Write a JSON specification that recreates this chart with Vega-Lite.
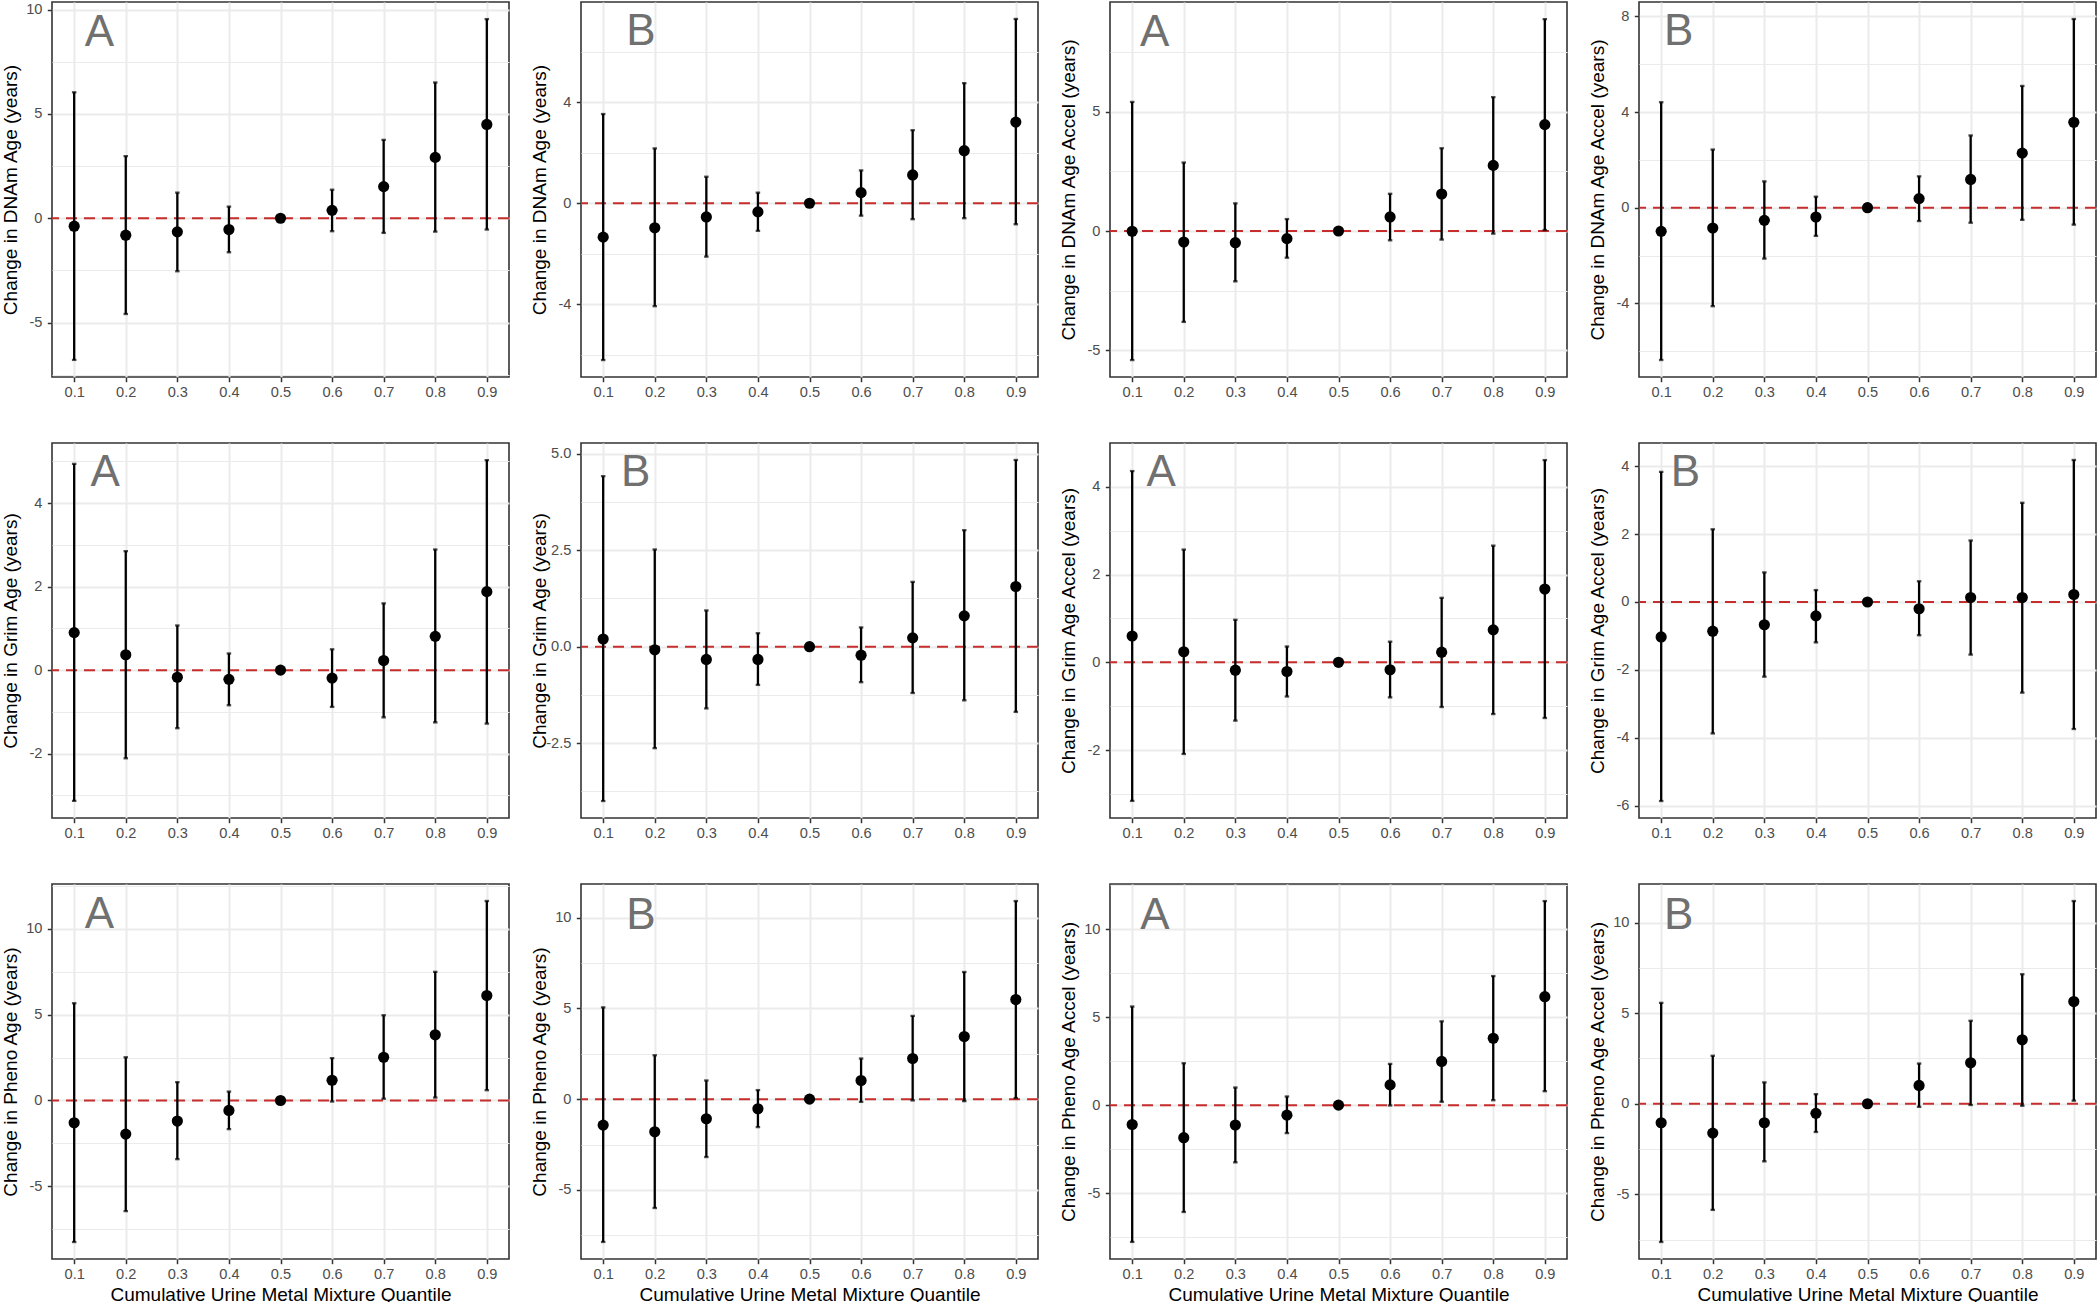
{
"$schema": "https://vega.github.io/schema/vega-lite/v6.json",
"background": "white",
"padding": 0,
"columns": 4,
"spacing": {"row": 66, "column": 72},
"bounds": "flush",
"datasets": {"est": [
{"panel":"p1","q":0.1,"est":-0.38,"lo":-6.79,"hi":6.04},{"panel":"p1","q":0.2,"est":-0.81,"lo":-4.59,"hi":2.98},{"panel":"p1","q":0.3,"est":-0.65,"lo":-2.54,"hi":1.23},{"panel":"p1","q":0.4,"est":-0.54,"lo":-1.63,"hi":0.56},{"panel":"p1","q":0.5,"est":0,"lo":0,"hi":0},{"panel":"p1","q":0.6,"est":0.38,"lo":-0.62,"hi":1.37},{"panel":"p1","q":0.7,"est":1.52,"lo":-0.70,"hi":3.76},{"panel":"p1","q":0.8,"est":2.92,"lo":-0.64,"hi":6.51},{"panel":"p1","q":0.9,"est":4.50,"lo":-0.54,"hi":9.55},
{"panel":"p2","q":0.1,"est":-1.34,"lo":-6.20,"hi":3.53},{"panel":"p2","q":0.2,"est":-0.97,"lo":-4.07,"hi":2.17},{"panel":"p2","q":0.3,"est":-0.54,"lo":-2.11,"hi":1.05},{"panel":"p2","q":0.4,"est":-0.34,"lo":-1.09,"hi":0.42},{"panel":"p2","q":0.5,"est":0,"lo":0,"hi":0},{"panel":"p2","q":0.6,"est":0.42,"lo":-0.49,"hi":1.30},{"panel":"p2","q":0.7,"est":1.12,"lo":-0.63,"hi":2.89},{"panel":"p2","q":0.8,"est":2.08,"lo":-0.59,"hi":4.75},{"panel":"p2","q":0.9,"est":3.21,"lo":-0.83,"hi":7.29},
{"panel":"p3","q":0.1,"est":-0.01,"lo":-5.41,"hi":5.41},{"panel":"p3","q":0.2,"est":-0.46,"lo":-3.81,"hi":2.87},{"panel":"p3","q":0.3,"est":-0.49,"lo":-2.11,"hi":1.16},{"panel":"p3","q":0.4,"est":-0.32,"lo":-1.12,"hi":0.50},{"panel":"p3","q":0.5,"est":0,"lo":0,"hi":0},{"panel":"p3","q":0.6,"est":0.59,"lo":-0.39,"hi":1.56},{"panel":"p3","q":0.7,"est":1.55,"lo":-0.36,"hi":3.47},{"panel":"p3","q":0.8,"est":2.75,"lo":-0.11,"hi":5.61},{"panel":"p3","q":0.9,"est":4.46,"lo":0.04,"hi":8.88},
{"panel":"p4","q":0.1,"est":-0.99,"lo":-6.37,"hi":4.41},{"panel":"p4","q":0.2,"est":-0.85,"lo":-4.12,"hi":2.43},{"panel":"p4","q":0.3,"est":-0.53,"lo":-2.13,"hi":1.10},{"panel":"p4","q":0.4,"est":-0.39,"lo":-1.18,"hi":0.46},{"panel":"p4","q":0.5,"est":0,"lo":0,"hi":0},{"panel":"p4","q":0.6,"est":0.38,"lo":-0.56,"hi":1.31},{"panel":"p4","q":0.7,"est":1.18,"lo":-0.63,"hi":3.02},{"panel":"p4","q":0.8,"est":2.28,"lo":-0.51,"hi":5.09},{"panel":"p4","q":0.9,"est":3.57,"lo":-0.71,"hi":7.89},
{"panel":"p5","q":0.1,"est":0.90,"lo":-3.13,"hi":4.94},{"panel":"p5","q":0.2,"est":0.37,"lo":-2.11,"hi":2.85},{"panel":"p5","q":0.3,"est":-0.17,"lo":-1.39,"hi":1.07},{"panel":"p5","q":0.4,"est":-0.22,"lo":-0.84,"hi":0.40},{"panel":"p5","q":0.5,"est":0,"lo":0,"hi":0},{"panel":"p5","q":0.6,"est":-0.19,"lo":-0.88,"hi":0.50},{"panel":"p5","q":0.7,"est":0.23,"lo":-1.13,"hi":1.60},{"panel":"p5","q":0.8,"est":0.81,"lo":-1.25,"hi":2.89},{"panel":"p5","q":0.9,"est":1.88,"lo":-1.28,"hi":5.03},
{"panel":"p6","q":0.1,"est":0.20,"lo":-4.00,"hi":4.42},{"panel":"p6","q":0.2,"est":-0.08,"lo":-2.63,"hi":2.52},{"panel":"p6","q":0.3,"est":-0.33,"lo":-1.60,"hi":0.94},{"panel":"p6","q":0.4,"est":-0.33,"lo":-0.99,"hi":0.35},{"panel":"p6","q":0.5,"est":0,"lo":0,"hi":0},{"panel":"p6","q":0.6,"est":-0.22,"lo":-0.92,"hi":0.50},{"panel":"p6","q":0.7,"est":0.23,"lo":-1.20,"hi":1.68},{"panel":"p6","q":0.8,"est":0.80,"lo":-1.39,"hi":3.02},{"panel":"p6","q":0.9,"est":1.56,"lo":-1.69,"hi":4.84},
{"panel":"p7","q":0.1,"est":0.60,"lo":-3.16,"hi":4.36},{"panel":"p7","q":0.2,"est":0.24,"lo":-2.09,"hi":2.57},{"panel":"p7","q":0.3,"est":-0.18,"lo":-1.33,"hi":0.97},{"panel":"p7","q":0.4,"est":-0.21,"lo":-0.78,"hi":0.36},{"panel":"p7","q":0.5,"est":0,"lo":0,"hi":0},{"panel":"p7","q":0.6,"est":-0.17,"lo":-0.80,"hi":0.47},{"panel":"p7","q":0.7,"est":0.23,"lo":-1.02,"hi":1.47},{"panel":"p7","q":0.8,"est":0.74,"lo":-1.18,"hi":2.66},{"panel":"p7","q":0.9,"est":1.67,"lo":-1.27,"hi":4.61},
{"panel":"p8","q":0.1,"est":-1.03,"lo":-5.86,"hi":3.83},{"panel":"p8","q":0.2,"est":-0.86,"lo":-3.87,"hi":2.14},{"panel":"p8","q":0.3,"est":-0.67,"lo":-2.20,"hi":0.87},{"panel":"p8","q":0.4,"est":-0.41,"lo":-1.19,"hi":0.35},{"panel":"p8","q":0.5,"est":0,"lo":0,"hi":0},{"panel":"p8","q":0.6,"est":-0.20,"lo":-0.98,"hi":0.61},{"panel":"p8","q":0.7,"est":0.13,"lo":-1.55,"hi":1.81},{"panel":"p8","q":0.8,"est":0.13,"lo":-2.67,"hi":2.92},{"panel":"p8","q":0.9,"est":0.22,"lo":-3.74,"hi":4.18},
{"panel":"p9","q":0.1,"est":-1.30,"lo":-8.25,"hi":5.67},{"panel":"p9","q":0.2,"est":-1.96,"lo":-6.45,"hi":2.52},{"panel":"p9","q":0.3,"est":-1.20,"lo":-3.42,"hi":1.07},{"panel":"p9","q":0.4,"est":-0.58,"lo":-1.67,"hi":0.52},{"panel":"p9","q":0.5,"est":0,"lo":0,"hi":0},{"panel":"p9","q":0.6,"est":1.18,"lo":-0.06,"hi":2.47},{"panel":"p9","q":0.7,"est":2.52,"lo":0.10,"hi":4.97},{"panel":"p9","q":0.8,"est":3.83,"lo":0.17,"hi":7.50},{"panel":"p9","q":0.9,"est":6.12,"lo":0.60,"hi":11.63},
{"panel":"p10","q":0.1,"est":-1.43,"lo":-7.87,"hi":5.06},{"panel":"p10","q":0.2,"est":-1.80,"lo":-6.00,"hi":2.42},{"panel":"p10","q":0.3,"est":-1.08,"lo":-3.19,"hi":1.03},{"panel":"p10","q":0.4,"est":-0.53,"lo":-1.54,"hi":0.50},{"panel":"p10","q":0.5,"est":0,"lo":0,"hi":0},{"panel":"p10","q":0.6,"est":1.03,"lo":-0.15,"hi":2.24},{"panel":"p10","q":0.7,"est":2.24,"lo":-0.07,"hi":4.59},{"panel":"p10","q":0.8,"est":3.45,"lo":-0.11,"hi":7.01},{"panel":"p10","q":0.9,"est":5.49,"lo":0.06,"hi":10.92},
{"panel":"p11","q":0.1,"est":-1.10,"lo":-7.77,"hi":5.60},{"panel":"p11","q":0.2,"est":-1.85,"lo":-6.07,"hi":2.38},{"panel":"p11","q":0.3,"est":-1.13,"lo":-3.25,"hi":1.00},{"panel":"p11","q":0.4,"est":-0.57,"lo":-1.59,"hi":0.49},{"panel":"p11","q":0.5,"est":0,"lo":0,"hi":0},{"panel":"p11","q":0.6,"est":1.15,"lo":-0.02,"hi":2.34},{"panel":"p11","q":0.7,"est":2.48,"lo":0.19,"hi":4.76},{"panel":"p11","q":0.8,"est":3.80,"lo":0.28,"hi":7.33},{"panel":"p11","q":0.9,"est":6.16,"lo":0.79,"hi":11.59},
{"panel":"p12","q":0.1,"est":-1.05,"lo":-7.63,"hi":5.57},{"panel":"p12","q":0.2,"est":-1.62,"lo":-5.86,"hi":2.65},{"panel":"p12","q":0.3,"est":-1.05,"lo":-3.18,"hi":1.18},{"panel":"p12","q":0.4,"est":-0.53,"lo":-1.56,"hi":0.53},{"panel":"p12","q":0.5,"est":0,"lo":0,"hi":0},{"panel":"p12","q":0.6,"est":1.01,"lo":-0.17,"hi":2.22},{"panel":"p12","q":0.7,"est":2.26,"lo":-0.07,"hi":4.58},{"panel":"p12","q":0.8,"est":3.53,"lo":-0.11,"hi":7.15},{"panel":"p12","q":0.9,"est":5.64,"lo":0.17,"hi":11.19}
]},
"concat": [
{"width":457,"height":375,"layer":[
 {"data":{"values":[{}]},"mark":{"type":"rule","color":"#C62D2D","strokeDash":[11,7],"strokeWidth":2},"encoding":{"y":{"datum":0,"type":"quantitative"}}},
 {"data":{"name":"est"},"transform":[{"filter":"datum.panel === 'p1'"}],"mark":{"type":"rule","color":"black","strokeWidth":2.3},"encoding":{"x":{"field":"q","type":"quantitative","title":null},"y":{"field":"lo","type":"quantitative","title":"Change in DNAm Age (years)"},"y2":{"field":"hi"}}},
 {"data":{"name":"est"},"transform":[{"filter":"datum.panel === 'p1'"}],"mark":{"type":"tick","orient":"horizontal","color":"black","size":4.5,"thickness":2.3},"encoding":{"x":{"field":"q","type":"quantitative","title":null},"y":{"field":"lo","type":"quantitative","title":"Change in DNAm Age (years)"}}},
 {"data":{"name":"est"},"transform":[{"filter":"datum.panel === 'p1'"}],"mark":{"type":"tick","orient":"horizontal","color":"black","size":4.5,"thickness":2.3},"encoding":{"x":{"field":"q","type":"quantitative","title":null},"y":{"field":"hi","type":"quantitative","title":"Change in DNAm Age (years)"}}},
 {"data":{"name":"est"},"transform":[{"filter":"datum.panel === 'p1'"}],"mark":{"type":"circle","color":"black","opacity":1,"size":125},"encoding":{
  "x":{"field":"q","type":"quantitative","title":null,"scale":{"domain":[0.057,0.943],"nice":false,"zero":false},"axis":{"values":[0.1,0.15,0.2,0.25,0.3,0.35,0.4,0.45,0.5,0.55,0.6,0.65,0.7,0.75,0.8,0.85,0.9],"labelExpr":"abs(datum.value*10 - round(datum.value*10)) > 0.01 ? '' : format(datum.value, '.1f')","gridWidth":{"condition":{"test":"abs(datum.value*10 - round(datum.value*10)) > 0.01","value":1.1},"value":2},"tickOpacity":{"condition":{"test":"abs(datum.value*10 - round(datum.value*10)) > 0.01","value":0},"value":1}}},
  "y":{"field":"est","type":"quantitative","title":"Change in DNAm Age (years)","scale":{"domain":[-7.61,10.37],"nice":false,"zero":false},"axis":{"values":[-7.5,-5,-2.5,0,2.5,5,7.5,10],"labelExpr":"indexof([-5,0,5,10], datum.value) < 0 ? '' : '' + datum.value","gridWidth":{"condition":{"test":"indexof([-5,0,5,10], datum.value) < 0","value":1.1},"value":2},"tickOpacity":{"condition":{"test":"indexof([-5,0,5,10], datum.value) < 0","value":0},"value":1}}}}},
 {"data":{"values":[{}]},"mark":{"type":"text","text":"A","fontSize":44,"color":"#707070","font":"Liberation Sans","align":"center","baseline":"alphabetic"},"encoding":{"x":{"datum":0.149,"type":"quantitative"},"y":{"datum":8.28,"type":"quantitative"}}}
]},
{"width":457,"height":375,"layer":[
 {"data":{"values":[{}]},"mark":{"type":"rule","color":"#C62D2D","strokeDash":[11,7],"strokeWidth":2},"encoding":{"y":{"datum":0,"type":"quantitative"}}},
 {"data":{"name":"est"},"transform":[{"filter":"datum.panel === 'p2'"}],"mark":{"type":"rule","color":"black","strokeWidth":2.3},"encoding":{"x":{"field":"q","type":"quantitative","title":null},"y":{"field":"lo","type":"quantitative","title":"Change in DNAm Age (years)"},"y2":{"field":"hi"}}},
 {"data":{"name":"est"},"transform":[{"filter":"datum.panel === 'p2'"}],"mark":{"type":"tick","orient":"horizontal","color":"black","size":4.5,"thickness":2.3},"encoding":{"x":{"field":"q","type":"quantitative","title":null},"y":{"field":"lo","type":"quantitative","title":"Change in DNAm Age (years)"}}},
 {"data":{"name":"est"},"transform":[{"filter":"datum.panel === 'p2'"}],"mark":{"type":"tick","orient":"horizontal","color":"black","size":4.5,"thickness":2.3},"encoding":{"x":{"field":"q","type":"quantitative","title":null},"y":{"field":"hi","type":"quantitative","title":"Change in DNAm Age (years)"}}},
 {"data":{"name":"est"},"transform":[{"filter":"datum.panel === 'p2'"}],"mark":{"type":"circle","color":"black","opacity":1,"size":125},"encoding":{
  "x":{"field":"q","type":"quantitative","title":null,"scale":{"domain":[0.057,0.943],"nice":false,"zero":false},"axis":{"values":[0.1,0.15,0.2,0.25,0.3,0.35,0.4,0.45,0.5,0.55,0.6,0.65,0.7,0.75,0.8,0.85,0.9],"labelExpr":"abs(datum.value*10 - round(datum.value*10)) > 0.01 ? '' : format(datum.value, '.1f')","gridWidth":{"condition":{"test":"abs(datum.value*10 - round(datum.value*10)) > 0.01","value":1.1},"value":2},"tickOpacity":{"condition":{"test":"abs(datum.value*10 - round(datum.value*10)) > 0.01","value":0},"value":1}}},
  "y":{"field":"est","type":"quantitative","title":"Change in DNAm Age (years)","scale":{"domain":[-6.87,7.96],"nice":false,"zero":false},"axis":{"values":[-6,-4,-2,0,2,4,6],"labelExpr":"indexof([-4,0,4], datum.value) < 0 ? '' : '' + datum.value","gridWidth":{"condition":{"test":"indexof([-4,0,4], datum.value) < 0","value":1.1},"value":2},"tickOpacity":{"condition":{"test":"indexof([-4,0,4], datum.value) < 0","value":0},"value":1}}}}},
 {"data":{"values":[{}]},"mark":{"type":"text","text":"B","fontSize":44,"color":"#707070","font":"Liberation Sans","align":"center","baseline":"alphabetic"},"encoding":{"x":{"datum":0.173,"type":"quantitative"},"y":{"datum":6.26,"type":"quantitative"}}}
]},
{"width":457,"height":375,"layer":[
 {"data":{"values":[{}]},"mark":{"type":"rule","color":"#C62D2D","strokeDash":[11,7],"strokeWidth":2},"encoding":{"y":{"datum":0,"type":"quantitative"}}},
 {"data":{"name":"est"},"transform":[{"filter":"datum.panel === 'p3'"}],"mark":{"type":"rule","color":"black","strokeWidth":2.3},"encoding":{"x":{"field":"q","type":"quantitative","title":null},"y":{"field":"lo","type":"quantitative","title":"Change in DNAm Age Accel (years)"},"y2":{"field":"hi"}}},
 {"data":{"name":"est"},"transform":[{"filter":"datum.panel === 'p3'"}],"mark":{"type":"tick","orient":"horizontal","color":"black","size":4.5,"thickness":2.3},"encoding":{"x":{"field":"q","type":"quantitative","title":null},"y":{"field":"lo","type":"quantitative","title":"Change in DNAm Age Accel (years)"}}},
 {"data":{"name":"est"},"transform":[{"filter":"datum.panel === 'p3'"}],"mark":{"type":"tick","orient":"horizontal","color":"black","size":4.5,"thickness":2.3},"encoding":{"x":{"field":"q","type":"quantitative","title":null},"y":{"field":"hi","type":"quantitative","title":"Change in DNAm Age Accel (years)"}}},
 {"data":{"name":"est"},"transform":[{"filter":"datum.panel === 'p3'"}],"mark":{"type":"circle","color":"black","opacity":1,"size":125},"encoding":{
  "x":{"field":"q","type":"quantitative","title":null,"scale":{"domain":[0.057,0.943],"nice":false,"zero":false},"axis":{"values":[0.1,0.15,0.2,0.25,0.3,0.35,0.4,0.45,0.5,0.55,0.6,0.65,0.7,0.75,0.8,0.85,0.9],"labelExpr":"abs(datum.value*10 - round(datum.value*10)) > 0.01 ? '' : format(datum.value, '.1f')","gridWidth":{"condition":{"test":"abs(datum.value*10 - round(datum.value*10)) > 0.01","value":1.1},"value":2},"tickOpacity":{"condition":{"test":"abs(datum.value*10 - round(datum.value*10)) > 0.01","value":0},"value":1}}},
  "y":{"field":"est","type":"quantitative","title":"Change in DNAm Age Accel (years)","scale":{"domain":[-6.12,9.60],"nice":false,"zero":false},"axis":{"values":[-5,-2.5,0,2.5,5,7.5],"labelExpr":"indexof([-5,0,5], datum.value) < 0 ? '' : '' + datum.value","gridWidth":{"condition":{"test":"indexof([-5,0,5], datum.value) < 0","value":1.1},"value":2},"tickOpacity":{"condition":{"test":"indexof([-5,0,5], datum.value) < 0","value":0},"value":1}}}}},
 {"data":{"values":[{}]},"mark":{"type":"text","text":"A","fontSize":44,"color":"#707070","font":"Liberation Sans","align":"center","baseline":"alphabetic"},"encoding":{"x":{"datum":0.1435,"type":"quantitative"},"y":{"datum":7.77,"type":"quantitative"}}}
]},
{"width":457,"height":375,"layer":[
 {"data":{"values":[{}]},"mark":{"type":"rule","color":"#C62D2D","strokeDash":[11,7],"strokeWidth":2},"encoding":{"y":{"datum":0,"type":"quantitative"}}},
 {"data":{"name":"est"},"transform":[{"filter":"datum.panel === 'p4'"}],"mark":{"type":"rule","color":"black","strokeWidth":2.3},"encoding":{"x":{"field":"q","type":"quantitative","title":null},"y":{"field":"lo","type":"quantitative","title":"Change in DNAm Age Accel (years)"},"y2":{"field":"hi"}}},
 {"data":{"name":"est"},"transform":[{"filter":"datum.panel === 'p4'"}],"mark":{"type":"tick","orient":"horizontal","color":"black","size":4.5,"thickness":2.3},"encoding":{"x":{"field":"q","type":"quantitative","title":null},"y":{"field":"lo","type":"quantitative","title":"Change in DNAm Age Accel (years)"}}},
 {"data":{"name":"est"},"transform":[{"filter":"datum.panel === 'p4'"}],"mark":{"type":"tick","orient":"horizontal","color":"black","size":4.5,"thickness":2.3},"encoding":{"x":{"field":"q","type":"quantitative","title":null},"y":{"field":"hi","type":"quantitative","title":"Change in DNAm Age Accel (years)"}}},
 {"data":{"name":"est"},"transform":[{"filter":"datum.panel === 'p4'"}],"mark":{"type":"circle","color":"black","opacity":1,"size":125},"encoding":{
  "x":{"field":"q","type":"quantitative","title":null,"scale":{"domain":[0.057,0.943],"nice":false,"zero":false},"axis":{"values":[0.1,0.15,0.2,0.25,0.3,0.35,0.4,0.45,0.5,0.55,0.6,0.65,0.7,0.75,0.8,0.85,0.9],"labelExpr":"abs(datum.value*10 - round(datum.value*10)) > 0.01 ? '' : format(datum.value, '.1f')","gridWidth":{"condition":{"test":"abs(datum.value*10 - round(datum.value*10)) > 0.01","value":1.1},"value":2},"tickOpacity":{"condition":{"test":"abs(datum.value*10 - round(datum.value*10)) > 0.01","value":0},"value":1}}},
  "y":{"field":"est","type":"quantitative","title":"Change in DNAm Age Accel (years)","scale":{"domain":[-7.08,8.60],"nice":false,"zero":false},"axis":{"values":[-6,-4,-2,0,2,4,6,8],"labelExpr":"indexof([-4,0,4,8], datum.value) < 0 ? '' : '' + datum.value","gridWidth":{"condition":{"test":"indexof([-4,0,4,8], datum.value) < 0","value":1.1},"value":2},"tickOpacity":{"condition":{"test":"indexof([-4,0,4,8], datum.value) < 0","value":0},"value":1}}}}},
 {"data":{"values":[{}]},"mark":{"type":"text","text":"B","fontSize":44,"color":"#707070","font":"Liberation Sans","align":"center","baseline":"alphabetic"},"encoding":{"x":{"datum":0.134,"type":"quantitative"},"y":{"datum":6.80,"type":"quantitative"}}}
]},
{"width":457,"height":375,"layer":[
 {"data":{"values":[{}]},"mark":{"type":"rule","color":"#C62D2D","strokeDash":[11,7],"strokeWidth":2},"encoding":{"y":{"datum":0,"type":"quantitative"}}},
 {"data":{"name":"est"},"transform":[{"filter":"datum.panel === 'p5'"}],"mark":{"type":"rule","color":"black","strokeWidth":2.3},"encoding":{"x":{"field":"q","type":"quantitative","title":null},"y":{"field":"lo","type":"quantitative","title":"Change in Grim Age (years)"},"y2":{"field":"hi"}}},
 {"data":{"name":"est"},"transform":[{"filter":"datum.panel === 'p5'"}],"mark":{"type":"tick","orient":"horizontal","color":"black","size":4.5,"thickness":2.3},"encoding":{"x":{"field":"q","type":"quantitative","title":null},"y":{"field":"lo","type":"quantitative","title":"Change in Grim Age (years)"}}},
 {"data":{"name":"est"},"transform":[{"filter":"datum.panel === 'p5'"}],"mark":{"type":"tick","orient":"horizontal","color":"black","size":4.5,"thickness":2.3},"encoding":{"x":{"field":"q","type":"quantitative","title":null},"y":{"field":"hi","type":"quantitative","title":"Change in Grim Age (years)"}}},
 {"data":{"name":"est"},"transform":[{"filter":"datum.panel === 'p5'"}],"mark":{"type":"circle","color":"black","opacity":1,"size":125},"encoding":{
  "x":{"field":"q","type":"quantitative","title":null,"scale":{"domain":[0.057,0.943],"nice":false,"zero":false},"axis":{"values":[0.1,0.15,0.2,0.25,0.3,0.35,0.4,0.45,0.5,0.55,0.6,0.65,0.7,0.75,0.8,0.85,0.9],"labelExpr":"abs(datum.value*10 - round(datum.value*10)) > 0.01 ? '' : format(datum.value, '.1f')","gridWidth":{"condition":{"test":"abs(datum.value*10 - round(datum.value*10)) > 0.01","value":1.1},"value":2},"tickOpacity":{"condition":{"test":"abs(datum.value*10 - round(datum.value*10)) > 0.01","value":0},"value":1}}},
  "y":{"field":"est","type":"quantitative","title":"Change in Grim Age (years)","scale":{"domain":[-3.54,5.44],"nice":false,"zero":false},"axis":{"values":[-3,-2,-1,0,1,2,3,4,5],"labelExpr":"indexof([-2,0,2,4], datum.value) < 0 ? '' : '' + datum.value","gridWidth":{"condition":{"test":"indexof([-2,0,2,4], datum.value) < 0","value":1.1},"value":2},"tickOpacity":{"condition":{"test":"indexof([-2,0,2,4], datum.value) < 0","value":0},"value":1}}}}},
 {"data":{"values":[{}]},"mark":{"type":"text","text":"A","fontSize":44,"color":"#707070","font":"Liberation Sans","align":"center","baseline":"alphabetic"},"encoding":{"x":{"datum":0.160,"type":"quantitative"},"y":{"datum":4.40,"type":"quantitative"}}}
]},
{"width":457,"height":375,"layer":[
 {"data":{"values":[{}]},"mark":{"type":"rule","color":"#C62D2D","strokeDash":[11,7],"strokeWidth":2},"encoding":{"y":{"datum":0,"type":"quantitative"}}},
 {"data":{"name":"est"},"transform":[{"filter":"datum.panel === 'p6'"}],"mark":{"type":"rule","color":"black","strokeWidth":2.3},"encoding":{"x":{"field":"q","type":"quantitative","title":null},"y":{"field":"lo","type":"quantitative","title":"Change in Grim Age (years)"},"y2":{"field":"hi"}}},
 {"data":{"name":"est"},"transform":[{"filter":"datum.panel === 'p6'"}],"mark":{"type":"tick","orient":"horizontal","color":"black","size":4.5,"thickness":2.3},"encoding":{"x":{"field":"q","type":"quantitative","title":null},"y":{"field":"lo","type":"quantitative","title":"Change in Grim Age (years)"}}},
 {"data":{"name":"est"},"transform":[{"filter":"datum.panel === 'p6'"}],"mark":{"type":"tick","orient":"horizontal","color":"black","size":4.5,"thickness":2.3},"encoding":{"x":{"field":"q","type":"quantitative","title":null},"y":{"field":"hi","type":"quantitative","title":"Change in Grim Age (years)"}}},
 {"data":{"name":"est"},"transform":[{"filter":"datum.panel === 'p6'"}],"mark":{"type":"circle","color":"black","opacity":1,"size":125},"encoding":{
  "x":{"field":"q","type":"quantitative","title":null,"scale":{"domain":[0.057,0.943],"nice":false,"zero":false},"axis":{"values":[0.1,0.15,0.2,0.25,0.3,0.35,0.4,0.45,0.5,0.55,0.6,0.65,0.7,0.75,0.8,0.85,0.9],"labelExpr":"abs(datum.value*10 - round(datum.value*10)) > 0.01 ? '' : format(datum.value, '.1f')","gridWidth":{"condition":{"test":"abs(datum.value*10 - round(datum.value*10)) > 0.01","value":1.1},"value":2},"tickOpacity":{"condition":{"test":"abs(datum.value*10 - round(datum.value*10)) > 0.01","value":0},"value":1}}},
  "y":{"field":"est","type":"quantitative","title":"Change in Grim Age (years)","scale":{"domain":[-4.44,5.28],"nice":false,"zero":false},"axis":{"values":[-3.75,-2.5,-1.25,0,1.25,2.5,3.75,5],"labelExpr":"indexof([-2.5,0,2.5,5], datum.value) < 0 ? '' : replace(format(datum.value, '.1f'), '\u2212', '-')","gridWidth":{"condition":{"test":"indexof([-2.5,0,2.5,5], datum.value) < 0","value":1.1},"value":2},"tickOpacity":{"condition":{"test":"indexof([-2.5,0,2.5,5], datum.value) < 0","value":0},"value":1}}}}},
 {"data":{"values":[{}]},"mark":{"type":"text","text":"B","fontSize":44,"color":"#707070","font":"Liberation Sans","align":"center","baseline":"alphabetic"},"encoding":{"x":{"datum":0.163,"type":"quantitative"},"y":{"datum":4.17,"type":"quantitative"}}}
]},
{"width":457,"height":375,"layer":[
 {"data":{"values":[{}]},"mark":{"type":"rule","color":"#C62D2D","strokeDash":[11,7],"strokeWidth":2},"encoding":{"y":{"datum":0,"type":"quantitative"}}},
 {"data":{"name":"est"},"transform":[{"filter":"datum.panel === 'p7'"}],"mark":{"type":"rule","color":"black","strokeWidth":2.3},"encoding":{"x":{"field":"q","type":"quantitative","title":null},"y":{"field":"lo","type":"quantitative","title":"Change in Grim Age Accel (years)"},"y2":{"field":"hi"}}},
 {"data":{"name":"est"},"transform":[{"filter":"datum.panel === 'p7'"}],"mark":{"type":"tick","orient":"horizontal","color":"black","size":4.5,"thickness":2.3},"encoding":{"x":{"field":"q","type":"quantitative","title":null},"y":{"field":"lo","type":"quantitative","title":"Change in Grim Age Accel (years)"}}},
 {"data":{"name":"est"},"transform":[{"filter":"datum.panel === 'p7'"}],"mark":{"type":"tick","orient":"horizontal","color":"black","size":4.5,"thickness":2.3},"encoding":{"x":{"field":"q","type":"quantitative","title":null},"y":{"field":"hi","type":"quantitative","title":"Change in Grim Age Accel (years)"}}},
 {"data":{"name":"est"},"transform":[{"filter":"datum.panel === 'p7'"}],"mark":{"type":"circle","color":"black","opacity":1,"size":125},"encoding":{
  "x":{"field":"q","type":"quantitative","title":null,"scale":{"domain":[0.057,0.943],"nice":false,"zero":false},"axis":{"values":[0.1,0.15,0.2,0.25,0.3,0.35,0.4,0.45,0.5,0.55,0.6,0.65,0.7,0.75,0.8,0.85,0.9],"labelExpr":"abs(datum.value*10 - round(datum.value*10)) > 0.01 ? '' : format(datum.value, '.1f')","gridWidth":{"condition":{"test":"abs(datum.value*10 - round(datum.value*10)) > 0.01","value":1.1},"value":2},"tickOpacity":{"condition":{"test":"abs(datum.value*10 - round(datum.value*10)) > 0.01","value":0},"value":1}}},
  "y":{"field":"est","type":"quantitative","title":"Change in Grim Age Accel (years)","scale":{"domain":[-3.55,5.00],"nice":false,"zero":false},"axis":{"values":[-3,-2,-1,0,1,2,3,4],"labelExpr":"indexof([-2,0,2,4], datum.value) < 0 ? '' : '' + datum.value","gridWidth":{"condition":{"test":"indexof([-2,0,2,4], datum.value) < 0","value":1.1},"value":2},"tickOpacity":{"condition":{"test":"indexof([-2,0,2,4], datum.value) < 0","value":0},"value":1}}}}},
 {"data":{"values":[{}]},"mark":{"type":"text","text":"A","fontSize":44,"color":"#707070","font":"Liberation Sans","align":"center","baseline":"alphabetic"},"encoding":{"x":{"datum":0.156,"type":"quantitative"},"y":{"datum":4.01,"type":"quantitative"}}}
]},
{"width":457,"height":375,"layer":[
 {"data":{"values":[{}]},"mark":{"type":"rule","color":"#C62D2D","strokeDash":[11,7],"strokeWidth":2},"encoding":{"y":{"datum":0,"type":"quantitative"}}},
 {"data":{"name":"est"},"transform":[{"filter":"datum.panel === 'p8'"}],"mark":{"type":"rule","color":"black","strokeWidth":2.3},"encoding":{"x":{"field":"q","type":"quantitative","title":null},"y":{"field":"lo","type":"quantitative","title":"Change in Grim Age Accel (years)"},"y2":{"field":"hi"}}},
 {"data":{"name":"est"},"transform":[{"filter":"datum.panel === 'p8'"}],"mark":{"type":"tick","orient":"horizontal","color":"black","size":4.5,"thickness":2.3},"encoding":{"x":{"field":"q","type":"quantitative","title":null},"y":{"field":"lo","type":"quantitative","title":"Change in Grim Age Accel (years)"}}},
 {"data":{"name":"est"},"transform":[{"filter":"datum.panel === 'p8'"}],"mark":{"type":"tick","orient":"horizontal","color":"black","size":4.5,"thickness":2.3},"encoding":{"x":{"field":"q","type":"quantitative","title":null},"y":{"field":"hi","type":"quantitative","title":"Change in Grim Age Accel (years)"}}},
 {"data":{"name":"est"},"transform":[{"filter":"datum.panel === 'p8'"}],"mark":{"type":"circle","color":"black","opacity":1,"size":125},"encoding":{
  "x":{"field":"q","type":"quantitative","title":null,"scale":{"domain":[0.057,0.943],"nice":false,"zero":false},"axis":{"values":[0.1,0.15,0.2,0.25,0.3,0.35,0.4,0.45,0.5,0.55,0.6,0.65,0.7,0.75,0.8,0.85,0.9],"labelExpr":"abs(datum.value*10 - round(datum.value*10)) > 0.01 ? '' : format(datum.value, '.1f')","gridWidth":{"condition":{"test":"abs(datum.value*10 - round(datum.value*10)) > 0.01","value":1.1},"value":2},"tickOpacity":{"condition":{"test":"abs(datum.value*10 - round(datum.value*10)) > 0.01","value":0},"value":1}}},
  "y":{"field":"est","type":"quantitative","title":"Change in Grim Age Accel (years)","scale":{"domain":[-6.36,4.68],"nice":false,"zero":false},"axis":{"values":[-6,-5,-4,-3,-2,-1,0,1,2,3,4],"labelExpr":"indexof([-6,-4,-2,0,2,4], datum.value) < 0 ? '' : '' + datum.value","gridWidth":{"condition":{"test":"indexof([-6,-4,-2,0,2,4], datum.value) < 0","value":1.1},"value":2},"tickOpacity":{"condition":{"test":"indexof([-6,-4,-2,0,2,4], datum.value) < 0","value":0},"value":1}}}}},
 {"data":{"values":[{}]},"mark":{"type":"text","text":"B","fontSize":44,"color":"#707070","font":"Liberation Sans","align":"center","baseline":"alphabetic"},"encoding":{"x":{"datum":0.147,"type":"quantitative"},"y":{"datum":3.42,"type":"quantitative"}}}
]},
{"width":457,"height":375,"layer":[
 {"data":{"values":[{}]},"mark":{"type":"rule","color":"#C62D2D","strokeDash":[11,7],"strokeWidth":2},"encoding":{"y":{"datum":0,"type":"quantitative"}}},
 {"data":{"name":"est"},"transform":[{"filter":"datum.panel === 'p9'"}],"mark":{"type":"rule","color":"black","strokeWidth":2.3},"encoding":{"x":{"field":"q","type":"quantitative","title":"Cumulative Urine Metal Mixture Quantile"},"y":{"field":"lo","type":"quantitative","title":"Change in Pheno Age (years)"},"y2":{"field":"hi"}}},
 {"data":{"name":"est"},"transform":[{"filter":"datum.panel === 'p9'"}],"mark":{"type":"tick","orient":"horizontal","color":"black","size":4.5,"thickness":2.3},"encoding":{"x":{"field":"q","type":"quantitative","title":"Cumulative Urine Metal Mixture Quantile"},"y":{"field":"lo","type":"quantitative","title":"Change in Pheno Age (years)"}}},
 {"data":{"name":"est"},"transform":[{"filter":"datum.panel === 'p9'"}],"mark":{"type":"tick","orient":"horizontal","color":"black","size":4.5,"thickness":2.3},"encoding":{"x":{"field":"q","type":"quantitative","title":"Cumulative Urine Metal Mixture Quantile"},"y":{"field":"hi","type":"quantitative","title":"Change in Pheno Age (years)"}}},
 {"data":{"name":"est"},"transform":[{"filter":"datum.panel === 'p9'"}],"mark":{"type":"circle","color":"black","opacity":1,"size":125},"encoding":{
  "x":{"field":"q","type":"quantitative","title":"Cumulative Urine Metal Mixture Quantile","scale":{"domain":[0.057,0.943],"nice":false,"zero":false},"axis":{"values":[0.1,0.15,0.2,0.25,0.3,0.35,0.4,0.45,0.5,0.55,0.6,0.65,0.7,0.75,0.8,0.85,0.9],"labelExpr":"abs(datum.value*10 - round(datum.value*10)) > 0.01 ? '' : format(datum.value, '.1f')","gridWidth":{"condition":{"test":"abs(datum.value*10 - round(datum.value*10)) > 0.01","value":1.1},"value":2},"tickOpacity":{"condition":{"test":"abs(datum.value*10 - round(datum.value*10)) > 0.01","value":0},"value":1}}},
  "y":{"field":"est","type":"quantitative","title":"Change in Pheno Age (years)","scale":{"domain":[-9.24,12.62],"nice":false,"zero":false},"axis":{"values":[-7.5,-5,-2.5,0,2.5,5,7.5,10,12.5],"labelExpr":"indexof([-5,0,5,10], datum.value) < 0 ? '' : '' + datum.value","gridWidth":{"condition":{"test":"indexof([-5,0,5,10], datum.value) < 0","value":1.1},"value":2},"tickOpacity":{"condition":{"test":"indexof([-5,0,5,10], datum.value) < 0","value":0},"value":1}}}}},
 {"data":{"values":[{}]},"mark":{"type":"text","text":"A","fontSize":44,"color":"#707070","font":"Liberation Sans","align":"center","baseline":"alphabetic"},"encoding":{"x":{"datum":0.149,"type":"quantitative"},"y":{"datum":10.06,"type":"quantitative"}}}
]},
{"width":457,"height":375,"layer":[
 {"data":{"values":[{}]},"mark":{"type":"rule","color":"#C62D2D","strokeDash":[11,7],"strokeWidth":2},"encoding":{"y":{"datum":0,"type":"quantitative"}}},
 {"data":{"name":"est"},"transform":[{"filter":"datum.panel === 'p10'"}],"mark":{"type":"rule","color":"black","strokeWidth":2.3},"encoding":{"x":{"field":"q","type":"quantitative","title":"Cumulative Urine Metal Mixture Quantile"},"y":{"field":"lo","type":"quantitative","title":"Change in Pheno Age (years)"},"y2":{"field":"hi"}}},
 {"data":{"name":"est"},"transform":[{"filter":"datum.panel === 'p10'"}],"mark":{"type":"tick","orient":"horizontal","color":"black","size":4.5,"thickness":2.3},"encoding":{"x":{"field":"q","type":"quantitative","title":"Cumulative Urine Metal Mixture Quantile"},"y":{"field":"lo","type":"quantitative","title":"Change in Pheno Age (years)"}}},
 {"data":{"name":"est"},"transform":[{"filter":"datum.panel === 'p10'"}],"mark":{"type":"tick","orient":"horizontal","color":"black","size":4.5,"thickness":2.3},"encoding":{"x":{"field":"q","type":"quantitative","title":"Cumulative Urine Metal Mixture Quantile"},"y":{"field":"hi","type":"quantitative","title":"Change in Pheno Age (years)"}}},
 {"data":{"name":"est"},"transform":[{"filter":"datum.panel === 'p10'"}],"mark":{"type":"circle","color":"black","opacity":1,"size":125},"encoding":{
  "x":{"field":"q","type":"quantitative","title":"Cumulative Urine Metal Mixture Quantile","scale":{"domain":[0.057,0.943],"nice":false,"zero":false},"axis":{"values":[0.1,0.15,0.2,0.25,0.3,0.35,0.4,0.45,0.5,0.55,0.6,0.65,0.7,0.75,0.8,0.85,0.9],"labelExpr":"abs(datum.value*10 - round(datum.value*10)) > 0.01 ? '' : format(datum.value, '.1f')","gridWidth":{"condition":{"test":"abs(datum.value*10 - round(datum.value*10)) > 0.01","value":1.1},"value":2},"tickOpacity":{"condition":{"test":"abs(datum.value*10 - round(datum.value*10)) > 0.01","value":0},"value":1}}},
  "y":{"field":"est","type":"quantitative","title":"Change in Pheno Age (years)","scale":{"domain":[-8.81,11.86],"nice":false,"zero":false},"axis":{"values":[-7.5,-5,-2.5,0,2.5,5,7.5,10],"labelExpr":"indexof([-5,0,5,10], datum.value) < 0 ? '' : '' + datum.value","gridWidth":{"condition":{"test":"indexof([-5,0,5,10], datum.value) < 0","value":1.1},"value":2},"tickOpacity":{"condition":{"test":"indexof([-5,0,5,10], datum.value) < 0","value":0},"value":1}}}}},
 {"data":{"values":[{}]},"mark":{"type":"text","text":"B","fontSize":44,"color":"#707070","font":"Liberation Sans","align":"center","baseline":"alphabetic"},"encoding":{"x":{"datum":0.173,"type":"quantitative"},"y":{"datum":9.39,"type":"quantitative"}}}
]},
{"width":457,"height":375,"layer":[
 {"data":{"values":[{}]},"mark":{"type":"rule","color":"#C62D2D","strokeDash":[11,7],"strokeWidth":2},"encoding":{"y":{"datum":0,"type":"quantitative"}}},
 {"data":{"name":"est"},"transform":[{"filter":"datum.panel === 'p11'"}],"mark":{"type":"rule","color":"black","strokeWidth":2.3},"encoding":{"x":{"field":"q","type":"quantitative","title":"Cumulative Urine Metal Mixture Quantile"},"y":{"field":"lo","type":"quantitative","title":"Change in Pheno Age Accel (years)"},"y2":{"field":"hi"}}},
 {"data":{"name":"est"},"transform":[{"filter":"datum.panel === 'p11'"}],"mark":{"type":"tick","orient":"horizontal","color":"black","size":4.5,"thickness":2.3},"encoding":{"x":{"field":"q","type":"quantitative","title":"Cumulative Urine Metal Mixture Quantile"},"y":{"field":"lo","type":"quantitative","title":"Change in Pheno Age Accel (years)"}}},
 {"data":{"name":"est"},"transform":[{"filter":"datum.panel === 'p11'"}],"mark":{"type":"tick","orient":"horizontal","color":"black","size":4.5,"thickness":2.3},"encoding":{"x":{"field":"q","type":"quantitative","title":"Cumulative Urine Metal Mixture Quantile"},"y":{"field":"hi","type":"quantitative","title":"Change in Pheno Age Accel (years)"}}},
 {"data":{"name":"est"},"transform":[{"filter":"datum.panel === 'p11'"}],"mark":{"type":"circle","color":"black","opacity":1,"size":125},"encoding":{
  "x":{"field":"q","type":"quantitative","title":"Cumulative Urine Metal Mixture Quantile","scale":{"domain":[0.057,0.943],"nice":false,"zero":false},"axis":{"values":[0.1,0.15,0.2,0.25,0.3,0.35,0.4,0.45,0.5,0.55,0.6,0.65,0.7,0.75,0.8,0.85,0.9],"labelExpr":"abs(datum.value*10 - round(datum.value*10)) > 0.01 ? '' : format(datum.value, '.1f')","gridWidth":{"condition":{"test":"abs(datum.value*10 - round(datum.value*10)) > 0.01","value":1.1},"value":2},"tickOpacity":{"condition":{"test":"abs(datum.value*10 - round(datum.value*10)) > 0.01","value":0},"value":1}}},
  "y":{"field":"est","type":"quantitative","title":"Change in Pheno Age Accel (years)","scale":{"domain":[-8.74,12.56],"nice":false,"zero":false},"axis":{"values":[-7.5,-5,-2.5,0,2.5,5,7.5,10,12.5],"labelExpr":"indexof([-5,0,5,10], datum.value) < 0 ? '' : '' + datum.value","gridWidth":{"condition":{"test":"indexof([-5,0,5,10], datum.value) < 0","value":1.1},"value":2},"tickOpacity":{"condition":{"test":"indexof([-5,0,5,10], datum.value) < 0","value":0},"value":1}}}}},
 {"data":{"values":[{}]},"mark":{"type":"text","text":"A","fontSize":44,"color":"#707070","font":"Liberation Sans","align":"center","baseline":"alphabetic"},"encoding":{"x":{"datum":0.144,"type":"quantitative"},"y":{"datum":10.02,"type":"quantitative"}}}
]},
{"width":457,"height":375,"layer":[
 {"data":{"values":[{}]},"mark":{"type":"rule","color":"#C62D2D","strokeDash":[11,7],"strokeWidth":2},"encoding":{"y":{"datum":0,"type":"quantitative"}}},
 {"data":{"name":"est"},"transform":[{"filter":"datum.panel === 'p12'"}],"mark":{"type":"rule","color":"black","strokeWidth":2.3},"encoding":{"x":{"field":"q","type":"quantitative","title":"Cumulative Urine Metal Mixture Quantile"},"y":{"field":"lo","type":"quantitative","title":"Change in Pheno Age Accel (years)"},"y2":{"field":"hi"}}},
 {"data":{"name":"est"},"transform":[{"filter":"datum.panel === 'p12'"}],"mark":{"type":"tick","orient":"horizontal","color":"black","size":4.5,"thickness":2.3},"encoding":{"x":{"field":"q","type":"quantitative","title":"Cumulative Urine Metal Mixture Quantile"},"y":{"field":"lo","type":"quantitative","title":"Change in Pheno Age Accel (years)"}}},
 {"data":{"name":"est"},"transform":[{"filter":"datum.panel === 'p12'"}],"mark":{"type":"tick","orient":"horizontal","color":"black","size":4.5,"thickness":2.3},"encoding":{"x":{"field":"q","type":"quantitative","title":"Cumulative Urine Metal Mixture Quantile"},"y":{"field":"hi","type":"quantitative","title":"Change in Pheno Age Accel (years)"}}},
 {"data":{"name":"est"},"transform":[{"filter":"datum.panel === 'p12'"}],"mark":{"type":"circle","color":"black","opacity":1,"size":125},"encoding":{
  "x":{"field":"q","type":"quantitative","title":"Cumulative Urine Metal Mixture Quantile","scale":{"domain":[0.057,0.943],"nice":false,"zero":false},"axis":{"values":[0.1,0.15,0.2,0.25,0.3,0.35,0.4,0.45,0.5,0.55,0.6,0.65,0.7,0.75,0.8,0.85,0.9],"labelExpr":"abs(datum.value*10 - round(datum.value*10)) > 0.01 ? '' : format(datum.value, '.1f')","gridWidth":{"condition":{"test":"abs(datum.value*10 - round(datum.value*10)) > 0.01","value":1.1},"value":2},"tickOpacity":{"condition":{"test":"abs(datum.value*10 - round(datum.value*10)) > 0.01","value":0},"value":1}}},
  "y":{"field":"est","type":"quantitative","title":"Change in Pheno Age Accel (years)","scale":{"domain":[-8.57,12.13],"nice":false,"zero":false},"axis":{"values":[-7.5,-5,-2.5,0,2.5,5,7.5,10],"labelExpr":"indexof([-5,0,5,10], datum.value) < 0 ? '' : '' + datum.value","gridWidth":{"condition":{"test":"indexof([-5,0,5,10], datum.value) < 0","value":1.1},"value":2},"tickOpacity":{"condition":{"test":"indexof([-5,0,5,10], datum.value) < 0","value":0},"value":1}}}}},
 {"data":{"values":[{}]},"mark":{"type":"text","text":"B","fontSize":44,"color":"#707070","font":"Liberation Sans","align":"center","baseline":"alphabetic"},"encoding":{"x":{"datum":0.134,"type":"quantitative"},"y":{"datum":9.67,"type":"quantitative"}}}
]}
],
"config": {
 "font": "Liberation Sans",
 "view": {"stroke": "#333333", "strokeWidth": 1.6},
 "axis": {"domain": false, "grid": true, "gridColor": "#EBEBEB", "tickColor": "#333333", "tickSize": 4.7, "tickWidth": 1.5, "labelFont": "Liberation Sans", "labelFontSize": 14.6, "labelColor": "#4D4D4D", "titleFont": "Liberation Sans", "titleFontSize": 19, "titleFontWeight": "normal", "titleColor": "black", "labelOverlap": false, "labelFlush": false},
 "axisY": {"labelPadding": 5.4, "titleX": -42, "titleBaseline": "middle"},
 "axisX": {"labelPadding": 2.5, "titlePadding": 4.5}
}
}
